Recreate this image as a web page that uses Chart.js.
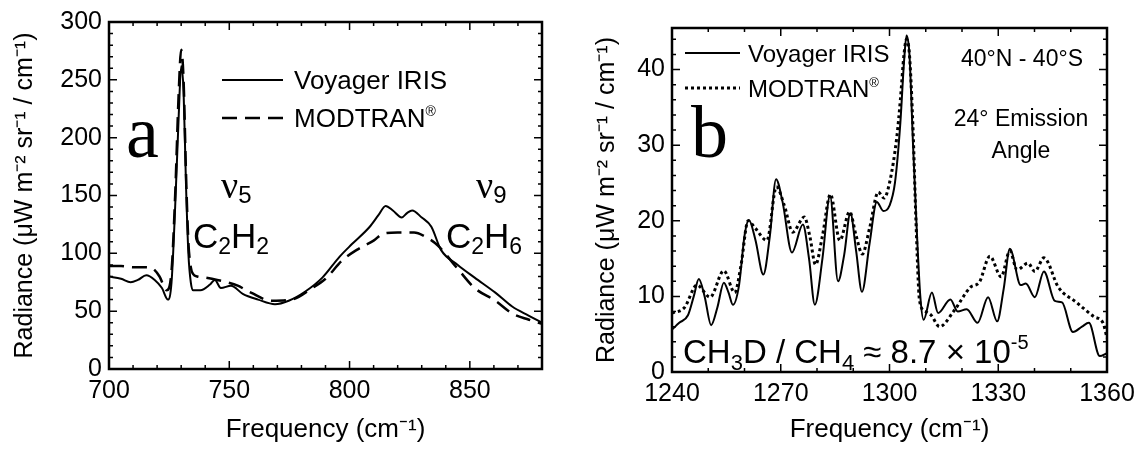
<!DOCTYPE html>
<html>
<head>
<meta charset="utf-8">
<script src="https://cdn.jsdelivr.net/npm/chart.js@4"></script>
<style>
html,body{margin:0;padding:0;background:#fff;}
#wrap{position:relative;width:1142px;height:450px;}
.panel{position:absolute;top:0;width:571px;height:450px;}
</style>
</head>
<body>
<div id="wrap">
<div class="panel" style="left:0"><canvas id="chartA" width="571" height="450"></canvas></div>
<div class="panel" style="left:571px"><canvas id="chartB" width="571" height="450"></canvas></div>
</div>
<script>
// ---------------------
// Data
// ---------------------

// panel a : C2H2 / C2H6 region
const freqA_iris = [700,705,709,712,715.5,719,722,724.5,726,727.5,729,730,731,732,733,734,735,738,742,744,746.5,750.7,755.6,762,769,774.7,781.6,788.7,795.8,801,808.4,812,815,818,821.7,824,826,830,834,838,845,852,860.6,867.6,874.6,880];
const radA_iris  = [80,78,75,77,81,77,70,60,75,140,220,262,240,160,100,75,68,68,73,77,70,72,65,60,56,59,67,79,97,108,123,133,141,137,131,135,137,131,123,103,90,79,66,54,46,40];

const freqA_mod = [700,705,710,715,718,721,724,726,727.5,729,730,731,732,733,734,735,736.7,740,745,749,753.5,759,767.6,776,784.5,790,797,803,810,814,820,826.8,831,836.6,845,852,860.6,867.6,874.6,880];
const radA_mod  = [89,89,88,88,87,80,68,85,150,240,276,250,170,110,88,82,80,79,77,75,72,66,59,60,70,78,94,103,111,117,118,118,115,107,86.5,70,59,48,42.6,39];

const xTicksA = [700,750,800,850];
const yTicksA = [0,50,100,150,200,250,300];

// panel b : CH3D region
const freqB_iris = [1240,1242,1244.4,1246,1247.4,1249,1250.8,1252.5,1254.3,1255.6,1256.8,1258.5,1260,1261.2,1263,1265.2,1267,1268.7,1270.5,1273.1,1276.1,1277.8,1279.4,1281.5,1283.6,1285.8,1287.5,1289.2,1290.8,1292.4,1294.5,1296.5,1298.3,1300,1301.5,1303,1304,1304.7,1305.5,1306.5,1307.5,1308.5,1309.4,1311.7,1313.4,1316.8,1318.8,1321.3,1324.3,1327.2,1329.7,1331.5,1333.2,1336.2,1337.6,1340.1,1342.6,1345.6,1347.6,1350.6,1353.1,1355,1358,1360];
const radB_iris  = [5.6,6.5,7.5,10,12.3,10,6.2,8.5,11.8,10.5,8.9,11.5,18,20.1,17.5,12.9,18,25.5,22.5,15.8,19.5,15,8.9,15,23.3,12,15.5,21,16,10.6,17,22.5,21.3,22,25,33,41,44.5,42,30,19,10,6.9,10.5,7.8,9.6,8.0,8.3,6.5,9.9,6.7,11,16.3,11.5,11.7,9.9,13.3,9.4,9.2,5.3,6.0,6.5,2.1,2.5];

const freqB_mod = [1240,1243.4,1246.9,1250.5,1254.3,1257.3,1259,1261,1263,1266.2,1268.8,1271,1273.3,1276.5,1278,1279.6,1281.5,1283.7,1286.3,1289,1290.8,1292.5,1294.5,1296.9,1298.5,1300,1302,1303,1304,1304.7,1305.5,1306.5,1307.3,1308.3,1309.9,1311.5,1313.8,1317.8,1322.3,1324.8,1327.7,1330.8,1333.2,1335.2,1338.2,1340.1,1342.6,1346.6,1351.6,1356.5,1358.9,1360];
const radB_mod  = [7.8,8.5,11.5,9.9,13.4,10.5,14,20,19,17.4,24.5,22,18.5,20.5,18,14.2,18,23.5,17.4,21.2,18,15.6,19,23.8,23,25,31,36,42,44,42,32,20,9.4,8,7.5,6.0,8.1,11.2,11.9,15.3,12.6,16,13.5,14.4,13.3,15.1,11.2,9.2,7.3,6.5,4.5];

const xTicksB = [1240,1270,1300,1330,1360];
const yTicksB = [0,10,20,30,40];

const SANS = '"Liberation Sans", Arial, Helvetica, sans-serif';
const SERIF = '"Liberation Serif", "Times New Roman", serif';
const yTitle = 'Radiance (\u03bcW m\u207b\u00b2 sr\u207b\u00b9 / cm\u207b\u00b9)';
const xTitle = 'Frequency (cm\u207b\u00b9)';

function pts(xs, ys){
    return xs.map((x,i)=>({x:x, y:ys[i]}));
}

// ---------------------
// Helpers
// ---------------------

// draw text made of runs : [text, size, dy, family]
function runs(ctx, x, y, parts){
    let cx = x;
    parts.forEach(p=>{
        ctx.font = p[1] + 'px ' + (p[3] || SANS);
        ctx.fillText(p[0], cx, y + (p[2] || 0));
        cx += ctx.measureText(p[0]).width;
    });
}

// box + inward ticks on all four sides
function framePlugin(xMajor, xMinorStep, yMajor, yMinorStep){
    return {
        id:'frame',
        afterDatasetsDraw(chart){
            const ctx = chart.ctx;
            const a = chart.chartArea;
            const sx = chart.scales.x, sy = chart.scales.y;
            ctx.save();
            ctx.strokeStyle = '#000';
            ctx.lineWidth = 1.5;
            ctx.beginPath();
            function tx(v, len){
                const p = sx.getPixelForValue(v);
                ctx.moveTo(p, a.bottom); ctx.lineTo(p, a.bottom - len);
                ctx.moveTo(p, a.top); ctx.lineTo(p, a.top + len);
            }
            function ty(v, len){
                const p = sy.getPixelForValue(v);
                ctx.moveTo(a.left, p); ctx.lineTo(a.left + len, p);
                ctx.moveTo(a.right, p); ctx.lineTo(a.right - len, p);
            }
            for(let v = sx.min; v <= sx.max + 1e-9; v += xMinorStep) tx(v, 4);
            for(let v = sy.min; v <= sy.max + 1e-9; v += yMinorStep) ty(v, 4);
            xMajor.forEach(v=>tx(v, 8));
            yMajor.forEach(v=>ty(v, 8));
            ctx.stroke();
            ctx.lineWidth = 2.5;
            ctx.strokeRect(a.left, a.top, a.right - a.left, a.bottom - a.top);
            ctx.restore();
        }
    };
}

function scalesFor(xmin, xmax, xt, ymin, ymax, yt, yWidth, xHeight){
    return {
        x:{
            type:'linear', min:xmin, max:xmax,
            afterBuildTicks:s=>{ s.ticks = xt.map(v=>({value:v})); },
            afterFit:s=>{ s.height = xHeight; },
            grid:{display:false, drawTicks:false},
            border:{display:false},
            ticks:{color:'#000', font:{family:SANS, size:25}, padding:7, maxRotation:0, callback:v=>String(v)},
            title:{display:true, text:xTitle, color:'#000', font:{family:SANS, size:26}, padding:{top:0, bottom:5}}
        },
        y:{
            type:'linear', min:ymin, max:ymax,
            afterBuildTicks:s=>{ s.ticks = yt.map(v=>({value:v})); },
            afterFit:s=>{ s.width = yWidth; },
            grid:{display:false, drawTicks:false},
            border:{display:false},
            ticks:{color:'#000', font:{family:SANS, size:25}, padding:7, callback:v=>String(v)},
            title:{display:true, text:yTitle, color:'#000', font:{family:SANS, size:25}, padding:0}
        }
    };
}

// ---------------------
// Panel a
// ---------------------

function loadChartA(){

const notes = {
    id:'notesA',
    afterDraw(chart){
        const ctx = chart.ctx;
        ctx.save();
        ctx.fillStyle = '#000';
        ctx.strokeStyle = '#000';
        ctx.textBaseline = 'alphabetic';
        // legend
        ctx.lineWidth = 2;
        ctx.beginPath(); ctx.moveTo(222,80); ctx.lineTo(283,80); ctx.stroke();
        ctx.lineWidth = 2.5;
        ctx.setLineDash([15,8]);
        ctx.beginPath(); ctx.moveTo(222,118); ctx.lineTo(283,118); ctx.stroke();
        ctx.setLineDash([]);
        runs(ctx, 294, 89, [['Voyager IRIS',26]]);
        runs(ctx, 294, 127, [['MODTRAN',26],['\u00ae',14,-11]]);
        // panel letter
        runs(ctx, 126, 157, [['a',74,0,SERIF]]);
        // band labels
        runs(ctx, 221, 198, [['\u03bd',38,0,SERIF],['5',24,5]]);
        runs(ctx, 193, 248, [['C',35],['2',23,6],['H',35],['2',23,6]]);
        runs(ctx, 476, 198, [['\u03bd',38,0,SERIF],['9',24,5]]);
        runs(ctx, 446, 248, [['C',35],['2',23,6],['H',35],['6',23,6]]);
        ctx.restore();
    }
};

new Chart(
document.getElementById('chartA'),
{
type:'line',
data:{
datasets:[
{label:'Voyager IRIS', data:pts(freqA_iris, radA_iris), borderColor:'#000', borderWidth:2, pointRadius:0, cubicInterpolationMode:'monotone'},
{label:'MODTRAN', data:pts(freqA_mod, radA_mod), borderColor:'#000', borderWidth:2.5, borderDash:[15,8], pointRadius:0, cubicInterpolationMode:'monotone'}
]
},
options:{
responsive:false,
animation:false,
layout:{padding:{left:10, top:22, right:29, bottom:0}},
plugins:{legend:{display:false}, tooltip:{enabled:false}},
scales:scalesFor(700, 880, xTicksA, 0, 300, yTicksA, 99, 81)
},
plugins:[framePlugin(xTicksA, 10, yTicksA, 10), notes]
}
);

}

// ---------------------
// Panel b
// ---------------------

function loadChartB(){

const notes = {
    id:'notesB',
    afterDraw(chart){
        const ctx = chart.ctx;
        ctx.save();
        ctx.fillStyle = '#000';
        ctx.strokeStyle = '#000';
        ctx.textBaseline = 'alphabetic';
        // legend (coordinates relative to this canvas)
        ctx.lineWidth = 2;
        ctx.beginPath(); ctx.moveTo(114,53); ctx.lineTo(169,53); ctx.stroke();
        ctx.lineWidth = 3;
        ctx.setLineDash([3,3]);
        ctx.beginPath(); ctx.moveTo(114,88); ctx.lineTo(169,88); ctx.stroke();
        ctx.setLineDash([]);
        runs(ctx, 177, 62, [['Voyager IRIS',24]]);
        runs(ctx, 177, 97, [['MODTRAN',24],['\u00ae',13,-10]]);
        runs(ctx, 120, 157, [['b',74,0,SERIF]]);
        ctx.textAlign = 'center';
        ctx.font = '23px ' + SANS;
        ctx.fillText('40\u00b0N - 40\u00b0S', 451, 66);
        ctx.fillText('24\u00b0 Emission', 450, 126);
        ctx.fillText('Angle', 450, 158);
        ctx.textAlign = 'left';
        runs(ctx, 112, 363, [['CH',33],['3',22,7],['D / CH',33],['4',22,7],[' \u2248 8.7 \u00d7 10',33],['-5',20,-14]]);
        ctx.restore();
    }
};

new Chart(
document.getElementById('chartB'),
{
type:'line',
data:{
datasets:[
{label:'Voyager IRIS', data:pts(freqB_iris, radB_iris), borderColor:'#000', borderWidth:2, pointRadius:0, cubicInterpolationMode:'monotone'},
{label:'MODTRAN', data:pts(freqB_mod, radB_mod), borderColor:'#000', borderWidth:3, borderDash:[3,3], pointRadius:0, cubicInterpolationMode:'monotone'}
]
},
options:{
responsive:false,
animation:false,
layout:{padding:{left:21, top:28, right:35, bottom:0}},
plugins:{legend:{display:false}, tooltip:{enabled:false}},
scales:scalesFor(1240, 1360, xTicksB, 0, 45.5, yTicksB, 80, 78)
},
plugins:[framePlugin(xTicksB, 10, yTicksB, 2), notes]
}
);

}

loadChartA();
loadChartB();
</script>
</body>
</html>
